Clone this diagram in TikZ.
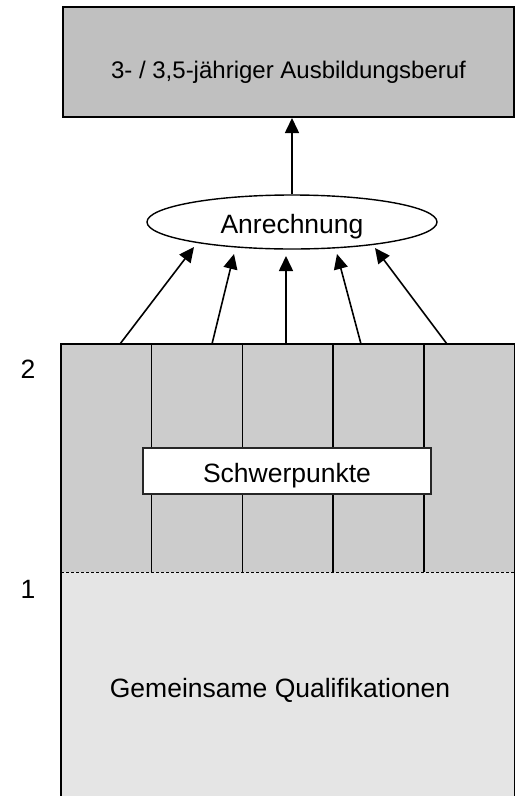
\documentclass[tikz,border=0pt]{standalone}
\usepackage{fontspec}
\setmainfont{Liberation Sans}
\usetikzlibrary{arrows.meta,shapes.geometric,calc}
\definecolor{boxgray}{HTML}{C0C0C0}
\definecolor{upgray}{HTML}{CCCCCC}
\definecolor{lowgray}{HTML}{E5E5E5}
\begin{document}
\begin{tikzpicture}[x=1pt,y=-1pt,
  thick line/.style={line width=1.6pt},
  arr/.style={line width=1.6pt,-{Triangle[length=15pt,width=14pt]}},
  txt/.style={font=\fontsize{26.5}{30}\selectfont},
  region/.style={draw=none,inner sep=0pt,anchor=north west,minimum width=453pt},
]
\useasboundingbox (0,0) rectangle (519,796);

% regions
\node[region,fill=upgray,minimum height=228pt] (upper) at (61,344) {};
\node[region,fill=lowgray,minimum height=230pt] (lower) at (61,572) {};

% column separators
\foreach \f in {0.2,0.4,0.6,0.8}
  \draw[thick line] ($(upper.north west)!\f!(upper.north east)$) -- ($(upper.south west)!\f!(upper.south east)$);

% dashed separator
\draw[line width=0.8pt,dash pattern=on 3pt off 2pt] (upper.south west) -- (upper.south east);

% outer border (open at the bottom)
\draw[thick line] (lower.south west) -- (upper.north west) -- (upper.north east) -- (lower.south east);

% Schwerpunkte
\node[draw=black!85,line width=1.2pt,fill=white,inner sep=0pt,minimum width=288pt,minimum height=46pt,
      txt,text height=22pt,text depth=0pt] (sp) at (287,471) {Schwerpunkte};

% lower text
\node[txt,anchor=base,inner sep=0pt] (gq) at (280,697) {Gemeinsame Qualifikationen};

% level labels
\node[txt,inner sep=0pt] (l2) at (28,369) {2};
\node[txt,inner sep=0pt] (l1) at (28,589) {1};

% top box
\node[draw,line width=2pt,fill=boxgray,inner sep=0pt,minimum width=451pt,minimum height=110pt,
      font=\fontsize{24}{30}\selectfont,text height=32pt,text depth=0pt] (top) at (288.5,62)
      {3- / 3,5-jähriger Ausbildungsberuf};

% ellipse
\node[ellipse,draw,line width=1.4pt,fill=white,inner sep=0pt,minimum width=290pt,minimum height=54pt,
      txt,text height=22pt,text depth=0pt] (anr) at (292,222) {Anrechnung};

\draw[arr] (anr.north) -- (anr.north |- top.south);

% arrows from columns
\coordinate (a1) at (120,344); \coordinate (t1) at (194,247);
\coordinate (a2) at (212,344); \coordinate (t2) at (234,254);
\coordinate (a3) at (286,344); \coordinate (t3) at (286,256);
\coordinate (a4) at (361,344); \coordinate (t4) at (337,254);
\coordinate (a5) at (447,344); \coordinate (t5) at (375,248);
\foreach \i in {1,...,5}
  \draw[arr] (a\i) -- (t\i);
\end{tikzpicture}
\end{document}
